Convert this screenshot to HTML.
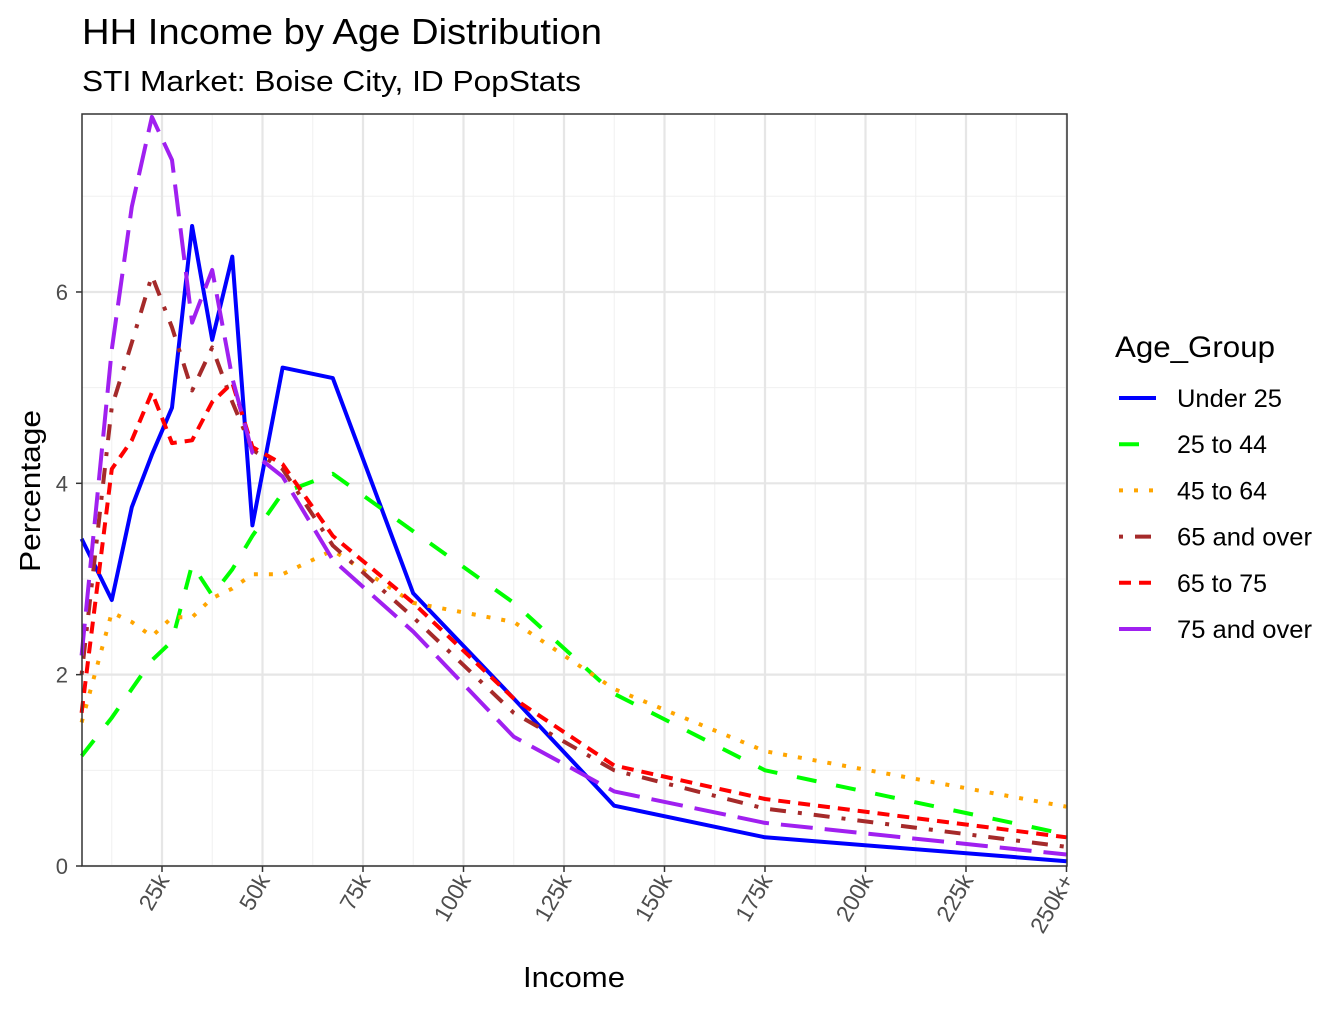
<!DOCTYPE html>
<html><head><meta charset="utf-8"><style>
body{margin:0;background:#fff}
svg text{font-family:"Liberation Sans",Arial,sans-serif}
</style></head><body>
<svg id="chart" width="1344" height="1008" xmlns="http://www.w3.org/2000/svg">
<text x="82" y="44" font-size="36" textLength="520" lengthAdjust="spacingAndGlyphs" fill="#000">HH Income by Age Distribution</text>
<text x="82" y="91" font-size="29" textLength="499" lengthAdjust="spacingAndGlyphs" fill="#000">STI Market: Boise City, ID PopStats</text>
<g id="grid"></g>
<g id="series"></g>
<rect x="82" y="114" width="985" height="752" fill="none" stroke="#333" stroke-width="1.5"/>
<g id="axes"></g>
<text x="574" y="987" font-size="29" textLength="102" lengthAdjust="spacingAndGlyphs" text-anchor="middle">Income</text>
<text transform="translate(40,491) rotate(-90)" font-size="29" textLength="162" lengthAdjust="spacingAndGlyphs" text-anchor="middle">Percentage</text>
<g id="legend"></g>
</svg>
<script>
const incomeK=[5,12.5,17.5,22.5,27.5,32.5,37.5,42.5,47.5,55,67.5,87.5,112.5,137.5,175,250];
const under25=[3.42,2.78,3.75,4.3,4.79,6.69,5.5,6.37,3.56,5.21,5.10,2.85,1.75,0.63,0.30,0.05];
const age25to44=[1.15,1.55,1.85,2.15,2.35,3.15,2.83,3.1,3.45,3.9,4.1,3.5,2.75,1.8,1.0,0.33];
const age45to64=[1.5,2.65,2.55,2.4,2.6,2.6,2.8,2.9,3.05,3.05,3.3,2.75,2.55,1.85,1.2,0.62];
const age65over=[2.0,4.8,5.47,6.17,5.63,4.97,5.42,4.85,4.35,4.15,3.35,2.6,1.6,1.0,0.6,0.2];
const age65to75=[1.6,4.15,4.45,4.95,4.42,4.45,4.85,5.05,4.38,4.2,3.45,2.75,1.75,1.05,0.7,0.3];
const age75over=[2.2,5.4,6.89,7.83,7.38,5.68,6.23,5.1,4.32,4.07,3.2,2.45,1.35,0.78,0.45,0.12];
const xTickVals=[25,50,75,100,125,150,175,200,225,250];
const xTickLabels=["25k","50k","75k","100k","125k","150k","175k","200k","225k","250k+"];
const yTickVals=[0,2,4,6];
const seriesNames=["Under 25","25 to 44","45 to 64","65 and over","65 to 75","75 and over"];

const NS="http://www.w3.org/2000/svg";
const X=k=>61.5+k*4.02;
const Y=v=>866-v*95.67;
function mk(tag,attrs,parent){const e=document.createElementNS(NS,tag);for(const k in attrs)e.setAttribute(k,attrs[k]);parent.appendChild(e);return e;}
const grid=document.getElementById('grid'),axes=document.getElementById('axes'),ser=document.getElementById('series'),leg=document.getElementById('legend');
for(let v=1;v<=7;v+=2){const l=mk('line',{x1:82,x2:1067,y1:Y(v),y2:Y(v),stroke:'#f0f0f0','stroke-width':1},grid);

}
for(let k=12.5;k<250;k+=25){const l=mk('line',{x1:X(k),x2:X(k),y1:114,y2:866,stroke:'#f0f0f0','stroke-width':1},grid);

}
yTickVals.forEach(v=>{const l=mk('line',{x1:82,x2:1067,y1:Y(v),y2:Y(v),stroke:'#e6e6e6','stroke-width':2.2},grid);


const t=mk('line',{x1:76,x2:82,y1:Y(v),y2:Y(v),stroke:'#333','stroke-width':1.5},axes);


const tx=mk('text',{x:68,y:Y(v)+8,'font-size':22,'text-anchor':'end',fill:'#4d4d4d'},axes);tx.textContent=v;

});
xTickVals.forEach((k,i)=>{const l=mk('line',{x1:X(k),x2:X(k),y1:114,y2:866,stroke:'#e6e6e6','stroke-width':2.2},grid);


const t=mk('line',{x1:X(k),x2:X(k),y1:866,y2:872,stroke:'#333','stroke-width':1.5},axes);


const tx=mk('text',{transform:`translate(${X(k)+8},${880}) rotate(-60)`,'font-size':23,'text-anchor':'end',fill:'#4d4d4d'},axes);tx.textContent=xTickLabels[i];

});
const all=[under25,age25to44,age45to64,age65over,age65to75,age75over];
const colors=["#0000ff","#00ff00","#ffa500","#a52a2a","#ff0000","#a020f0"];
const dashes=["","20,20","4,11","4,12,16,12","12,8","32,12"];
const slugs=["under-25","25-to-44","45-to-64","65-and-over","65-to-75","75-and-over"];
all.forEach((vals,s)=>{const d=vals.map((v,i)=>(i?'L':'M')+X(incomeK[i]).toFixed(1)+','+Y(v).toFixed(1)).join(' ');
const p=mk('path',{d:d,fill:'none',stroke:colors[s],'stroke-width':4,'stroke-dasharray':dashes[s],'stroke-linejoin':'round'},ser);

});
const lt=mk('text',{x:1115,y:357,'font-size':30,textLength:160,lengthAdjust:'spacingAndGlyphs'},leg);lt.textContent="Age_Group";


const legW=[105,90,90,135,90,135];
seriesNames.forEach((n,s)=>{const y=398+s*46.2;
const g=mk('g',{},leg);


mk('line',{x1:1119,x2:1156,y1:y,y2:y,stroke:colors[s],'stroke-width':4,'stroke-dasharray':dashes[s]},g);
const t=mk('text',{x:1177,y:y+9,'font-size':25,textLength:legW[s],lengthAdjust:'spacingAndGlyphs'},g);t.textContent=n;});
</script>
</body></html>
